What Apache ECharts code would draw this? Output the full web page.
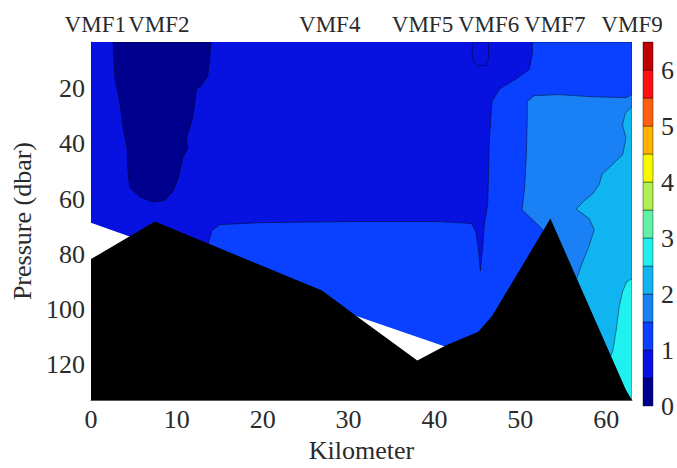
<!DOCTYPE html>
<html><head><meta charset="utf-8">
<script src="https://cdn.jsdelivr.net/npm/echarts@6/dist/echarts.min.js"></script>
<style>html,body{margin:0;padding:0;background:#fff}#c{width:677px;height:468px}</style>
</head><body><div id="c"></div>
<script>
// ---- colour scale (contour levels) ----
const levelEdges = [0,0.5,1,1.5,2,2.5,3,3.5,4,4.5,5,5.5,6,6.5];
const levelColors = ['#00008f','#0812e0','#0a40ff','#1a80f5','#10b4f0','#20f0f0','#60f0a8','#b0f050','#f8f800','#ffb000','#ff6010','#ff1010','#c00000'];
const colorbarTicks = [0,1,2,3,4,5,6];
const xTicks = [0,10,20,30,40,50,60];
const yTicks = [20,40,60,80,100,120];
// ---- stations ----
const stationNames = ['VMF1','VMF2','VMF4','VMF5','VMF6','VMF7','VMF9'];
const stationKm = [0.5,7.9,27.8,38.6,46.3,54.0,63.0];
// ---- contour regions [km, dbar] ----
const fieldBase = [[0,3],[63,3],[63,133],[0,133]];                     // 0.5-1
const regionBelow05 = [[2.6,3],[14.0,3],[13.8,9.3],[13.6,15.3],[12.9,18.8],[12.3,20],[11.9,29.5],[11.5,34.3],[11.1,37.9],[11.3,41.4],[10.7,45],[10.2,52.1],[9.6,56.9],[8.6,60.5],[7.2,61.1],[5.7,59.3],[4.5,55.7],[4.3,49.8],[4.2,41.4],[3.8,35.5],[3.4,26],[2.8,16.4],[2.6,6.9]];
const patchVMF6 = [[44.4,3],[46.3,3],[46.3,9.5],[45.9,11.6],[44.9,11.6],[44.4,9.5]];
const region1to15 = [[51.4,3],[51.4,6.9],[51.05,12.9],[49.5,16.4],[47.6,20],[46.7,24.6],[46.4,37.9],[46.2,61.8],[45.8,69.3],[45.6,77.9],[45.35,86.1],[45.1,77.9],[44.8,71.8],[44.3,68.9],[40.7,68.2],[30.1,68.2],[19.7,68.6],[15.0,69.3],[14.1,71.4],[13.7,75.7],[13.7,133],[63,133],[63,3]];
const region15to2 = [[50.8,24.6],[51.6,22.5],[54.5,22.1],[58.4,22.9],[62.3,23.2],[63,22.1],[63,133],[54.5,133],[52.8,71.8],[51.9,68.9],[51.05,66.4],[50.2,63.9],[50.5,55.7],[50.7,43.9],[50.8,31.8]];
const region2to25 = [[63,26.4],[62.2,29],[61.9,33.2],[62.3,37.9],[61.9,43.9],[60.7,47.5],[59.5,51.1],[59.2,54.6],[58.4,58.2],[57.4,60.7],[56.5,63.6],[58.0,67.1],[58.6,71.1],[58.0,77.1],[57.2,83.2],[56.6,88.6],[56.3,95],[59.2,133],[63,133]];
const region25to3 = [[63,88.9],[62.4,90],[61.9,93.6],[61.5,99.3],[61.2,106.8],[60.8,114.6],[59.8,123.6],[63,133]];
const noDataArea = [[0,68.6],[4.5,73.6],[30.9,102.5],[41.3,113.6],[41.3,133],[0,133]];
const seabed = [[0,81.8],[7.44,68.2],[26.9,93.2],[30.9,102.5],[38.0,118.6],[41.3,113.2],[45.1,108.2],[46.7,102.5],[53.5,67.1],[58.6,103.2],[62.3,129.3],[63,133],[0,133]];

const layers = [
  {poly: fieldBase, fill: levelColors[1], stroke: false},
  {poly: regionBelow05, fill: levelColors[0], stroke: true},
  {poly: patchVMF6, fill: levelColors[1], stroke: true},
  {poly: region1to15, fill: levelColors[2], stroke: true},
  {poly: region15to2, fill: levelColors[3], stroke: true},
  {poly: region2to25, fill: levelColors[4], stroke: true},
  {poly: region25to3, fill: levelColors[5], stroke: true},
  {poly: noDataArea, fill: '#ffffff', stroke: false},
  {poly: seabed, fill: '#000000', stroke: false}
];

const FONT = "'Liberation Serif','Times New Roman',serif";
const TXT = '#2a2a2a';

const chart = echarts.init(document.getElementById('c'), null, {renderer: 'svg'});
chart.setOption({
  animation: false,
  backgroundColor: '#ffffff',
  grid: [
    {left: 91, top: 42, width: 541, height: 364},
    {left: 643, top: 42, width: 17, height: 364}
  ],
  xAxis: [
    {gridIndex: 0, type: 'value', min: 0, max: 63,
     name: 'Kilometer', nameLocation: 'middle', nameGap: 30,
     nameTextStyle: {fontFamily: FONT, fontSize: 26, color: TXT},
     axisLine: {show: true, lineStyle: {color: '#555', width: 1}},
     axisTick: {show: false}, splitLine: {show: false},
     axisLabel: {customValues: xTicks, fontFamily: FONT, fontSize: 26, color: TXT, margin: 6}},
    {gridIndex: 1, type: 'value', min: 0, max: 1, show: false}
  ],
  yAxis: [
    {gridIndex: 0, type: 'value', min: 3, max: 133, inverse: true,
     name: 'Pressure (dbar)', nameLocation: 'middle', nameGap: 52,
     nameTextStyle: {fontFamily: FONT, fontSize: 26, color: TXT},
     axisLine: {show: true, lineStyle: {color: '#555', width: 1}},
     axisTick: {show: false}, splitLine: {show: false},
     axisLabel: {customValues: yTicks, fontFamily: FONT, fontSize: 26, color: TXT, margin: 6}},
    {gridIndex: 1, type: 'value', min: 0, max: 6.5, position: 'right',
     axisLine: {show: false}, axisTick: {show: false}, splitLine: {show: false},
     axisLabel: {customValues: colorbarTicks, fontFamily: FONT, fontSize: 26, color: TXT, margin: 8}}
  ],
  series: [
    {type: 'custom', xAxisIndex: 0, yAxisIndex: 0, clip: true, silent: true,
     data: layers.map((l, i) => [0, 3, i]),
     renderItem: function (params, api) {
       const L = layers[params.dataIndex];
       const pts = L.poly.map(p => api.coord(p));
       return {type: 'polygon', shape: {points: pts},
         style: {fill: L.fill, stroke: L.stroke ? 'rgba(0,0,0,0.55)' : null, lineWidth: 0.8}};
     }},
    {type: 'custom', xAxisIndex: 1, yAxisIndex: 1, silent: true,
     data: levelColors.map((c, i) => [0, levelEdges[i], levelEdges[i + 1]]),
     renderItem: function (params, api) {
       const p0 = api.coord([0, api.value(2)]);
       const p1 = api.coord([1, api.value(1)]);
       return {type: 'rect', shape: {x: p0[0], y: p0[1], width: p1[0] - p0[0], height: p1[1] - p0[1]},
         style: {fill: levelColors[params.dataIndex], stroke: 'rgba(0,0,0,0.5)', lineWidth: 0.8}};
     }},
    {type: 'custom', xAxisIndex: 0, yAxisIndex: 0, clip: false, silent: true,
     data: stationKm.map(k => [k, 3]),
     renderItem: function (params, api) {
       const p = api.coord([api.value(0), api.value(1)]);
       return {type: 'text', x: p[0], y: p[1] - 18,
         style: {text: stationNames[params.dataIndex], fill: TXT, font: '23px ' + FONT, align: 'center', verticalAlign: 'middle'}};
     }}
  ]
});
</script>
</body></html>
